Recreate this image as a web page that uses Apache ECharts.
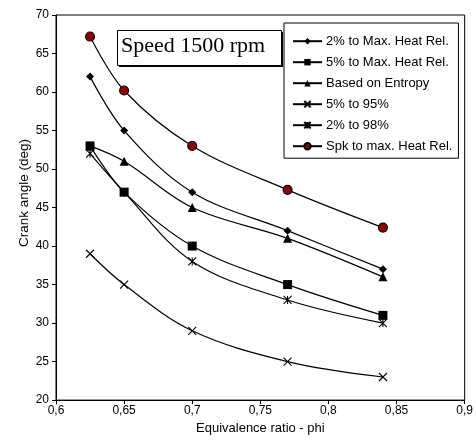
<!DOCTYPE html>
<html><head><meta charset="utf-8">
<script src="https://cdn.jsdelivr.net/npm/echarts@6/dist/echarts.min.js"></script>
<style>html,body{margin:0;padding:0;background:#fff;}#c{width:476px;height:440px;}</style>
</head><body><div id="c"></div>
<script>
const phi = [0.625, 0.65, 0.7, 0.77, 0.84];
const s2ToMax = [62, 55, 47, 42, 37];
const s5ToMax = [53, 47, 40, 35, 31];
const entropy = [53, 51, 45, 41, 36];
const s5to95 = [39, 35, 29, 25, 23];
const s2to98 = [52, 47, 38, 33, 30];
const spkToMax = [67.2, 60.2, 53, 47.3, 42.4];
const names = ['2% to Max. Heat Rel.', '5% to Max. Heat Rel.', 'Based on Entropy', '5% to 95%', '2% to 98%', 'Spk to max. Heat Rel.'];
const xTicks = [0.6, 0.65, 0.7, 0.75, 0.8, 0.85, 0.9];
const yTicks = [20, 25, 30, 35, 40, 45, 50, 55, 60, 65, 70];

const crossPath = 'path://M0,0L10,10M10,0L0,10';
const starPath = 'path://M0,0L10,10M10,0L0,10M5,0L5,10';

function mk(name, vals, symbol, size, color) {
  return {
    name: name, type: 'line', smooth: 0.35,
    data: phi.map((x, i) => [x, vals[i]]),
    symbol: symbol, symbolSize: size, showSymbol: true,
    lineStyle: {color: '#000', width: 1.2},
    itemStyle: {color: color || '#000', borderColor: '#000', borderWidth: symbol.startsWith('path') || symbol === 'circle' ? 1.1 : 0},
    emphasis: {disabled: true}, z: 2
  };
}

const chart = echarts.init(document.getElementById('c'), null, {renderer: 'canvas'});
chart.setOption({
  animation: false,
  grid: {left: 56, right: 8, top: 15, bottom: 37, show: true, borderColor: '#000', borderWidth: 1},
  xAxis: {
    type: 'value', min: 0.6, max: 0.9, interval: 0.05,
    name: 'Equivalence ratio - phi', nameLocation: 'middle', nameGap: 18,
    nameTextStyle: {color: '#000', fontSize: 13, fontFamily: 'Liberation Sans, Arial'},
    axisLine: {lineStyle: {color: '#000', width: 1}},
    axisTick: {show: true, length: 4, lineStyle: {color: '#000'}},
    axisLabel: {color: '#000', fontSize: 12, fontFamily: 'Liberation Sans, Arial', margin: 5,
      formatter: v => String(Math.round(v * 100) / 100).replace('.', ',')},
    splitLine: {show: false}
  },
  yAxis: {
    type: 'value', min: 20, max: 70, interval: 5,
    axisLine: {show: true, lineStyle: {color: '#000', width: 1}},
    axisTick: {show: true, length: 4, lineStyle: {color: '#000'}},
    axisLabel: {color: '#000', fontSize: 12, fontFamily: 'Liberation Sans, Arial', margin: 7},
    splitLine: {show: false}
  },
  legend: {
    orient: 'vertical', left: 284, top: 23, width: 175,
    padding: [11.7, 6, 5.5, 8], itemGap: 8, itemWidth: 29, itemHeight: 8,
    backgroundColor: '#fff', borderColor: '#000', borderWidth: 1,
    textStyle: {color: '#000', fontSize: 13, fontFamily: 'Liberation Sans, Arial', padding: [0,0,0,-1]},
    data: names
  },
  graphic: [
    {type: 'text', x: 24, y: 193, rotation: Math.PI / 2,
      style: {text: 'Crank angle (deg)', fill: '#000', font: '13.5px "Liberation Sans", Arial', align: 'center', verticalAlign: 'middle'}},
    {type: 'rect', left: 119, top: 32, shape: {width: 164, height: 35}, style: {fill: '#000'}, z: 10},
    {type: 'rect', left: 117, top: 30, shape: {width: 164, height: 35}, style: {fill: '#fff', stroke: '#000', lineWidth: 1}, z: 11},
    {type: 'text', left: 121, top: 35, style: {text: 'Speed 1500 rpm', fill: '#000', font: '22px "Liberation Serif", "Times New Roman", serif'}, z: 12}
  ],
  series: [
    mk(names[0], s2ToMax, 'diamond', 8),
    mk(names[1], s5ToMax, 'rect', 9),
    mk(names[2], entropy, 'triangle', 9),
    mk(names[3], s5to95, crossPath, 8),
    mk(names[4], s2to98, starPath, 8),
    mk(names[5], spkToMax, 'circle', 9, '#8B0000')
  ]
});
</script></body></html>
